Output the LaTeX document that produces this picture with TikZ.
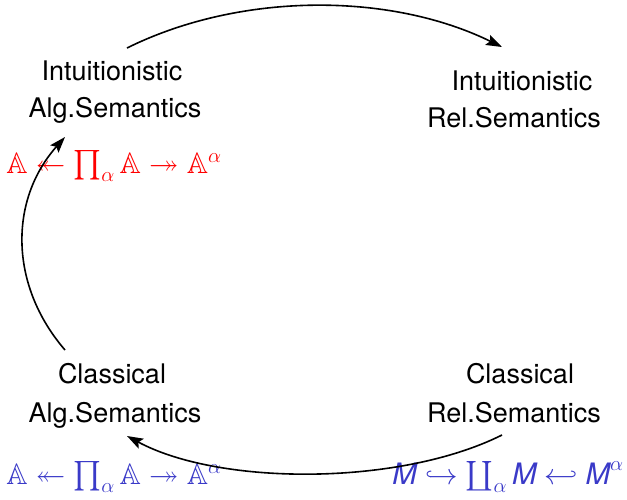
\documentclass[tikz,border=0pt]{standalone}
\usepackage{fix-cm}
\usepackage{amssymb}
\usepackage{fontspec}
\setmainfont{TeX Gyre Heros}
\setsansfont{TeX Gyre Heros}
\usetikzlibrary{arrows.meta}
\definecolor{fred}{RGB}{255,0,0}
\definecolor{fblue}{RGB}{58,58,200}
\newcommand{\sM}{\mbox{\itshape M}}
\begin{document}
\begin{tikzpicture}[x=1pt,y=-1pt,
  lbl/.style={inner sep=0pt,anchor=base,font=\fontsize{27}{37}\selectfont},
  frm/.style={inner sep=0pt,anchor=base,font=\fontsize{29.5}{37}\selectfont},
  conn/.style={line width=1.6pt,-{Stealth[length=16pt,width=11pt,inset=3pt]}}]
\useasboundingbox (0,0) rectangle (627,499);
% labels
\node[lbl] (ia1) at (112,80) {Intuitionistic};
\node[lbl] (ia2) at (115,117) {Alg.Semantics};
\node[lbl] (ir1) at (522,90) {Intuitionistic};
\node[lbl] (ir2) at (514,127) {Rel.Semantics};
\node[lbl] (ca1) at (112,383) {Classical};
\node[lbl] (ca2) at (115,422) {Alg.Semantics};
\node[lbl] (cr1) at (520,383) {Classical};
\node[lbl] (cr2) at (514,422) {Rel.Semantics};
% formulas
\node[frm,text=fred] (fr) at (114,173) {$\mathbb{A}\twoheadleftarrow\prod_\alpha\mathbb{A}\twoheadrightarrow\mathbb{A}^\alpha$};
\node[frm,text=fblue] (fbl) at (114,484) {$\mathbb{A}\twoheadleftarrow\prod_\alpha\mathbb{A}\twoheadrightarrow\mathbb{A}^\alpha$};
\node[frm,text=fblue] (fbr) at (508,484) {$\sM\hookrightarrow\coprod_\alpha\sM\hookleftarrow\sM^\alpha$};
% connector ends
\coordinate (t1) at (127,48);
\coordinate (t2) at (502,47);
\coordinate (l1) at (65,350);
\coordinate (l2) at (65,137);
\coordinate (b1) at (502,435);
\coordinate (b2) at (127,436);
\draw[conn] (t1) .. controls (240,-8) and (390,-8) .. (t2);
\draw[conn] (l1) .. controls (9,285) and (9,200) .. (l2);
\draw[conn] (b1) .. controls (400,486) and (220,486) .. (b2);
\end{tikzpicture}
\end{document}
